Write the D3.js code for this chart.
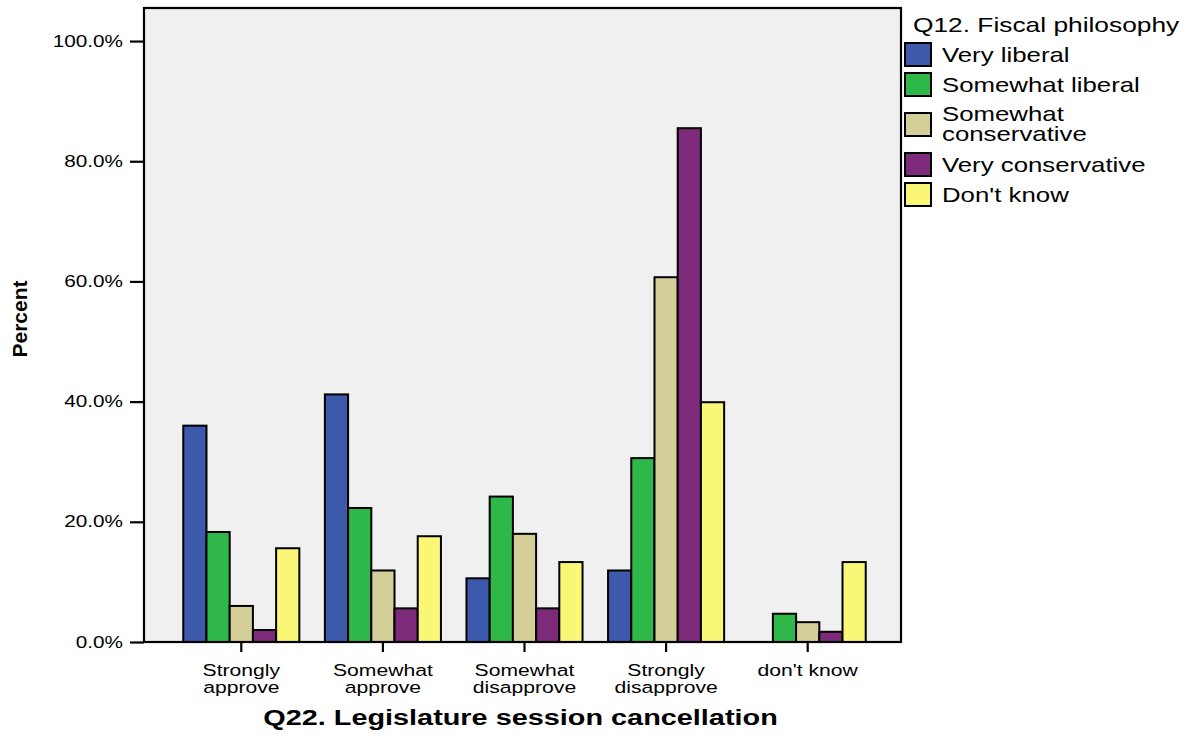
<!DOCTYPE html>
<html>
<head>
<meta charset="utf-8">
<script src="https://cdn.jsdelivr.net/npm/d3@7"></script>
<style>
  html, body { margin: 0; padding: 0; background: #ffffff; }
  svg { display: block; font-family: "Liberation Sans", Arial, sans-serif; }
</style>
</head>
<body>
<svg id="chart" width="1187" height="734"></svg>
<script>
// ---- data ----
const categories = ["Strongly approve", "Somewhat approve", "Somewhat disapprove", "Strongly disapprove", "don't know"];
const series = ["Very liberal", "Somewhat liberal", "Somewhat conservative", "Very conservative", "Don't know"];
const veryLiberal          = [36.0, 41.2, 10.6, 11.9, 0.0];
const somewhatLiberal      = [18.3, 22.3, 24.2, 30.6, 4.7];
const somewhatConservative = [6.0, 11.9, 18.0, 60.7, 3.3];
const veryConservative     = [2.0, 5.6, 5.6, 85.5, 1.7];
const dontKnow             = [15.6, 17.6, 13.3, 39.9, 13.3];
const yTicks = [0, 20, 40, 60, 80, 100];
const xTitle = "Q22. Legislature session cancellation";
const yTitle = "Percent";
const legendTitle = "Q12. Fiscal philosophy";
const colors = ["#3d59ab", "#2fb84a", "#d4cf98", "#7d2a7b", "#fbf776"];

const values = [veryLiberal, somewhatLiberal, somewhatConservative, veryConservative, dontKnow];

// ---- layout ----
const svg = d3.select("#chart");
const plot = { left: 144, top: 8, right: 901, bottom: 642 };
const SX = 1.33; // horizontal glyph stretch of the original rendering

const y = d3.scaleLinear().domain([0, 105.5]).range([plot.bottom, plot.top]);
const x0 = d3.scaleBand().domain(categories).range([170.5, 878.5]).paddingInner(0).paddingOuter(0);
const x1 = d3.scaleBand().domain(series).range([0, x0.bandwidth()]).paddingInner(0).paddingOuter(0.55);

// background
svg.append("rect")
  .attr("x", plot.left).attr("y", plot.top)
  .attr("width", plot.right - plot.left).attr("height", plot.bottom - plot.top)
  .attr("fill", "#f0f0f0");

// bars
const rows = [];
categories.forEach((c, i) => series.forEach((s, j) => rows.push({ c, s, j, v: values[j][i] })));
svg.append("g").selectAll("rect")
  .data(rows.filter(d => d.v > 0))
  .join("rect")
  .attr("x", d => x0(d.c) + x1(d.s))
  .attr("y", d => y(d.v))
  .attr("width", x1.bandwidth())
  .attr("height", d => y(0) - y(d.v))
  .attr("fill", d => colors[d.j])
  .attr("stroke", "#000")
  .attr("stroke-width", 2);

// frame
svg.append("rect")
  .attr("x", plot.left).attr("y", plot.top)
  .attr("width", plot.right - plot.left).attr("height", plot.bottom - plot.top)
  .attr("fill", "none").attr("stroke", "#000").attr("stroke-width", 2.2);

function stretchedText(g, tx, ty, str, size, anchor, weight) {
  return g.append("text")
    .attr("transform", `translate(${tx},${ty}) scale(${SX},1)`)
    .attr("text-anchor", anchor)
    .attr("font-size", size)
    .attr("font-weight", weight || "normal")
    .attr("fill", "#000")
    .text(str);
}

// y axis
const yAxis = svg.append("g").attr("transform", `translate(${plot.left},0)`)
  .call(d3.axisLeft(y).tickValues(yTicks).tickSize(14).tickFormat(""));
yAxis.select(".domain").remove();
yAxis.selectAll(".tick line").attr("stroke", "#000").attr("stroke-width", 2.2);
const yLab = svg.append("g");
yTicks.forEach(t => {
  stretchedText(yLab, 123, y(t) + 5.5, d3.format(".1f")(t) + "%", 15.6, "end");
});

// x axis
const xAxis = svg.append("g").attr("transform", `translate(0,${plot.bottom})`)
  .call(d3.axisBottom(x0).tickSize(10).tickFormat(""));
xAxis.select(".domain").remove();
xAxis.selectAll(".tick line").attr("stroke", "#000").attr("stroke-width", 2.2);
const xLab = svg.append("g");
categories.forEach(c => {
  const cx = x0(c) + x0.bandwidth() / 2;
  const lines = c.length > 10 ? [c.slice(0, c.indexOf(" ")), c.slice(c.indexOf(" ") + 1)] : [c];
  lines.forEach((ln, k) => stretchedText(xLab, cx, 675.5 + k * 17, ln, 15.9, "middle"));
});

// axis titles
stretchedText(svg, (plot.left + plot.right) / 2 - 2, 725, xTitle, 21.7, "middle", "bold");
svg.append("text")
  .attr("transform", `translate(27,319) rotate(-90)`)
  .attr("text-anchor", "middle")
  .attr("font-size", 21)
  .attr("font-weight", "bold")
  .text(yTitle);

// legend
const lg = svg.append("g");
stretchedText(lg, 913, 32, legendTitle, 19.8, "start");
let itemTop = 43;
series.forEach((s, j) => {
  const lines = s.length > 18 ? [s.slice(0, s.indexOf(" ")), s.slice(s.indexOf(" ") + 1)] : [s];
  if (j > 0) {
    const prevLines = series[j - 1].length > 18 ? 2 : 1;
    itemTop += 30 + 10 * (lines.length - 1) + 10 * (prevLines - 1);
  }
  lg.append("rect")
    .attr("x", 905).attr("y", itemTop).attr("width", 26).attr("height", 23)
    .attr("fill", colors[j]).attr("stroke", "#000").attr("stroke-width", 2);
  const cy = itemTop + 11.5;
  const first = cy + 7 - (lines.length - 1) * 10.5;
  lines.forEach((ln, k) => stretchedText(lg, 942, first + k * 20, ln, 19.4, "start"));
});
</script>
</body>
</html>
